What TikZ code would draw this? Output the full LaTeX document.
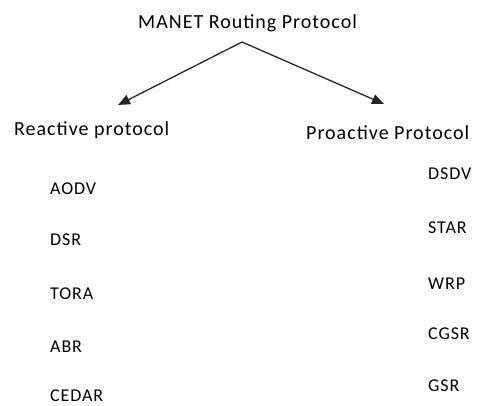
\documentclass[tikz,border=0pt]{standalone}
\usepackage{fontspec}
\setmainfont{Carlito}[LetterSpace=5]
\usetikzlibrary{arrows.meta, positioning}

\begin{document}
\begin{tikzpicture}[
    x=1pt, y=-1pt,
    head/.style={inner sep=0pt, anchor=base west, font=\fontsize{20}{22}\selectfont},
    item/.style={inner sep=0pt, anchor=base west, font=\fontsize{18}{20}\selectfont},
    link/.style={-{Triangle[length=12pt, width=10pt]}, line width=1.3pt, draw=black!85}
]
\useasboundingbox (0,0) rectangle (482,406);

% Nodes
\node[head] (manet) at (138,29) {MANET Routing Protocol};
\coordinate (apex) at (242,42);

\node[head] (react) at (14,136) {Reactive protocol};
\node[head] (proact) at (306,140) {Proactive Protocol};

\coordinate (reactend) at (118,105);
\coordinate (proactend) at (384,104);

\node[item] (aodv) at (50,195) {AODV};
\node[item] (dsr) at (50,246) {DSR};
\node[item] (tora) at (50,299) {TORA};
\node[item] (abr) at (50,352) {ABR};
\node[item] (cedar) at (50,401) {CEDAR};

\node[item] (dsdv) at (428,180) {DSDV};
\node[item] (star) at (428,234) {STAR};
\node[item] (wrp) at (428,289) {WRP};
\node[item] (cgsr) at (428,339) {CGSR};
\node[item] (gsr) at (428,391) {GSR};

% Arrows
\draw[link] (apex) -- (reactend);
\draw[link] (apex) -- (proactend);

\end{tikzpicture}
\end{document}
